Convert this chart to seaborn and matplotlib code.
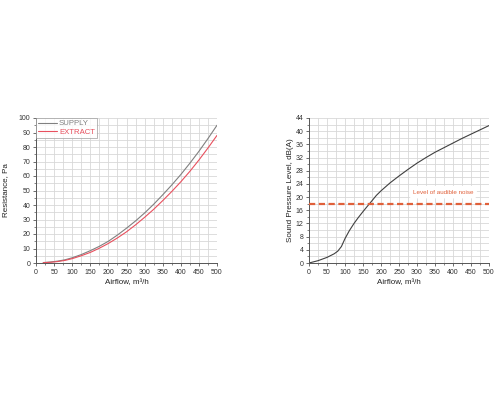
import matplotlib
matplotlib.use("Agg")
import matplotlib.pyplot as plt
import seaborn as sns
import pandas as pd
from matplotlib.ticker import MultipleLocator

sns.set_theme(style="white")
plt.rcParams['font.family'] = ['Liberation Sans', 'DejaVu Sans']

# Left chart: resistance
res_airflow = [20, 40, 60, 80, 100, 125, 150, 175, 200, 225, 250, 275, 300,
               325, 350, 375, 400, 425, 450, 475, 500]
supply = [0.3, 0.7, 1.3, 2.2, 3.6, 5.8, 8.5, 11.5, 15.0, 19.3, 24.0, 29.0, 34.5,
          40.5, 47.0, 53.8, 61.0, 68.8, 77.0, 85.8, 95.0]
extract = [0.2, 0.5, 1.0, 1.8, 3.0, 5.0, 7.3, 10.2, 13.5, 17.3, 21.5, 26.3, 31.5,
           37.0, 43.0, 49.3, 56.0, 63.2, 71.0, 79.3, 88.0]

# Right chart: sound pressure level
spl_airflow = [0, 25, 50, 70, 80, 90, 100, 112, 125, 137, 150, 162, 175, 187, 200,
               225, 250, 275, 300, 325, 350, 375, 400, 425, 450, 475, 500]
spl = [0, 0.7, 1.7, 2.8, 3.6, 5.0, 7.4, 9.8, 12.0, 13.8, 15.6, 17.2, 18.9, 20.5, 21.9,
       24.3, 26.4, 28.4, 30.3, 32.0, 33.6, 35.0, 36.4, 37.8, 39.1, 40.4, 41.7]
audible_level = 18
audible_label = "Level of audible noise"

df_res = pd.DataFrame({
    "Airflow": res_airflow * 2,
    "Resistance": supply + extract,
    "Series": ["SUPPLY"] * len(res_airflow) + ["EXTRACT"] * len(res_airflow),
})
df_spl = pd.DataFrame({"Airflow": spl_airflow, "SPL": spl})

fig = plt.figure(figsize=(5, 4), dpi=100)
ax1 = fig.add_axes([0.072, 0.3425, 0.362, 0.3625])
ax2 = fig.add_axes([0.618, 0.3425, 0.36, 0.3625])

sns.lineplot(data=df_res, x="Airflow", y="Resistance", hue="Series",
             palette={"SUPPLY": "#808080", "EXTRACT": "#e8505e"},
             linewidth=0.8, ax=ax1)
sns.lineplot(data=df_spl, x="Airflow", y="SPL", color="#404040", linewidth=0.8, ax=ax2)
ax2.axhline(audible_level, color="#e0603a", linewidth=1.6, dashes=(2.8, 1.6), zorder=3)
ax2.text(372, audible_level + 3.5, audible_label, color="#e0603a", fontsize=4.5,
         ha="center", va="center",
         bbox=dict(boxstyle="round,pad=0.6", fc="white", ec="none"), zorder=4)

def style(ax, ymax, ymajor, yminor, ylabel, ypad):
    ax.set_xlim(0, 500)
    ax.set_ylim(0, ymax)
    ax.xaxis.set_major_locator(MultipleLocator(50))
    ax.xaxis.set_minor_locator(MultipleLocator(25))
    ax.yaxis.set_major_locator(MultipleLocator(ymajor))
    ax.yaxis.set_minor_locator(MultipleLocator(yminor))
    ax.grid(True, which="both", color="#d8d8d8", linewidth=0.6)
    ax.set_axisbelow(True)
    for s in ["top", "right"]:
        ax.spines[s].set_visible(False)
    for s in ["left", "bottom"]:
        ax.spines[s].set_color("#555555")
        ax.spines[s].set_linewidth(0.7)
    ax.tick_params(which="major", direction="out", length=2.5, width=0.6,
                   color="#555555", labelsize=5, pad=1.5, labelcolor="#333333",
                   bottom=True, left=True)
    ax.tick_params(which="minor", direction="out", length=1.5, width=0.5,
                   color="#555555", bottom=True, left=True)
    ax.set_xlabel("Airflow, m³/h", fontsize=5.8, labelpad=2.5, color="#222222")
    ax.set_ylabel(ylabel, fontsize=5.8, labelpad=ypad, color="#222222")

style(ax1, 100, 10, 5, "Resistance, Pa", 7)
style(ax2, 44, 4, 2, "Sound Pressure Level, dB(A)", 1)

leg = ax1.legend(loc="upper left", fontsize=5.6, frameon=True, fancybox=False,
                 edgecolor="#999999", handlelength=2.4, handletextpad=0.3,
                 borderpad=0.25, labelspacing=0.15, borderaxespad=0.0,
                 labelcolor="linecolor")
leg.get_frame().set_linewidth(0.6)

fig.savefig("out.png", dpi=100, facecolor="white")
